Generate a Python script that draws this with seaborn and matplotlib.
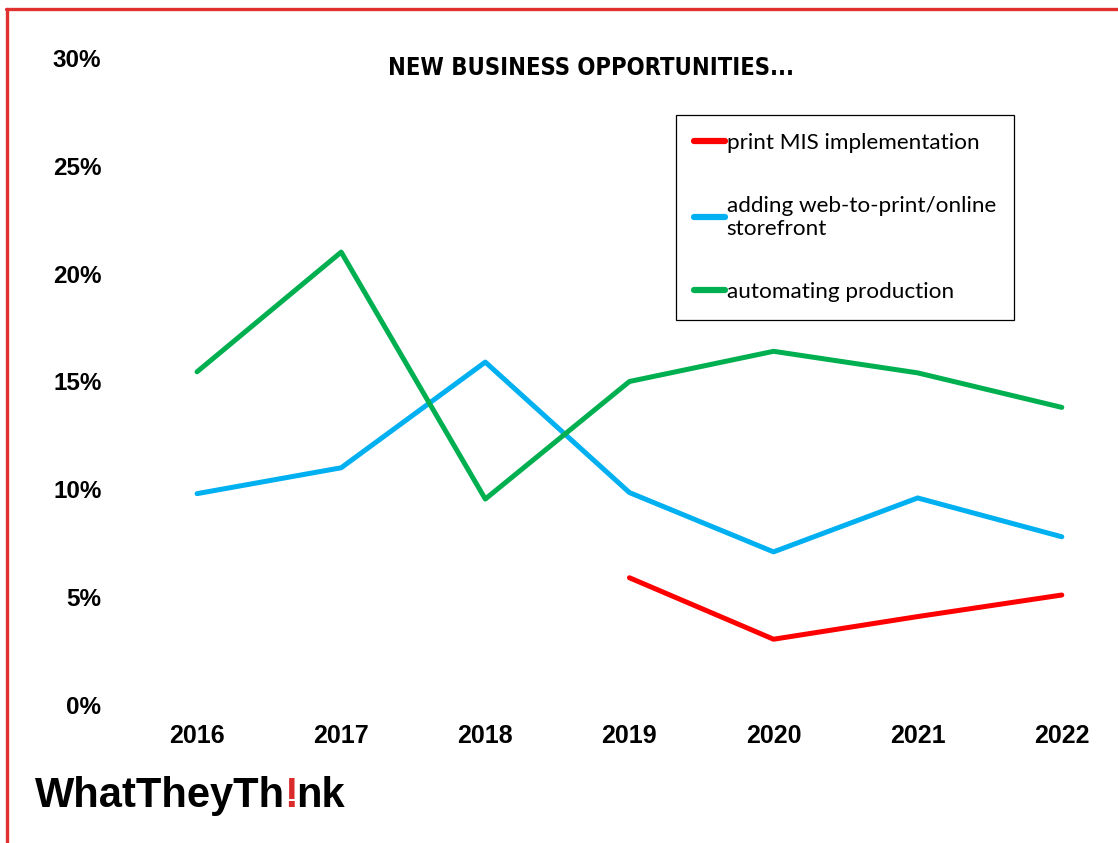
import numpy as np
import pandas as pd
import matplotlib
matplotlib.use("Agg")
import matplotlib.pyplot as plt
import seaborn as sns
from matplotlib.lines import Line2D

# Chart values
years = [2016, 2017, 2018, 2019, 2020, 2021, 2022]
mis_implementation = [np.nan, np.nan, np.nan, 5.9, 3.05, 4.1, 5.1]
web_to_print = [9.8, 11.0, 15.9, 9.85, 7.1, 9.6, 7.8]
automating_production = [15.45, 21.0, 9.55, 15.0, 16.4, 15.4, 13.8]

series_names = ["print MIS implementation",
                "adding web-to-print/online\nstorefront",
                "automating production"]
series_colors = ["#FF0000", "#00B0F0", "#00B050"]
y_ticks = [0, 5, 10, 15, 20, 25, 30]

df = pd.DataFrame({
    "year": years * 3,
    "value": mis_implementation + web_to_print + automating_production,
    "series": [series_names[0]] * 7 + [series_names[1]] * 7 + [series_names[2]] * 7,
})

sns.set_theme(style="white")
plt.rcParams["font.family"] = ["Liberation Sans", "DejaVu Sans"]
plt.rcParams["text.color"] = "black"

fig = plt.figure(figsize=(11.18, 8.43), dpi=100)
ax = fig.add_axes([0.1118, 0.1637, 0.8766, 0.7675])

sns.lineplot(data=df, x="year", y="value", hue="series", hue_order=series_names,
             palette=series_colors, linewidth=3.6, ax=ax, legend=True,
             solid_capstyle="round")

ax.set_xlim(2015.5, 2022.3)
ax.set_ylim(0, 30)
ax.set_xticks(years)
ax.set_xticklabels([str(y) for y in years], fontsize=18, fontweight="bold", color="black")
ax.set_yticks(y_ticks)
ax.set_yticklabels([f"{v}%" for v in y_ticks], fontsize=17.5, fontweight="bold", color="black")
ax.tick_params(axis="y", length=0, pad=17)
ax.tick_params(axis="x", length=0, pad=14)
ax.set_xlabel("")
ax.set_ylabel("")
for s in ax.spines.values():
    s.set_visible(False)
ax.grid(False)

handles, labels = ax.get_legend_handles_labels()
leg = ax.legend(handles, labels, loc="upper left", bbox_to_anchor=(0.5622, 0.912),
                frameon=True, fancybox=False, framealpha=1, edgecolor="black",
                prop={"family": ["Lato", "DejaVu Sans"], "size": 16.2},
                handlelength=1.4, handletextpad=0.05, labelspacing=1.9,
                borderpad=0.8, borderaxespad=0, title=None)
leg.get_frame().set_linewidth(0.9)
for line in leg.get_lines():
    line.set_linewidth(4.5)
    line.set_solid_capstyle("round")
for txt in leg.get_texts():
    txt.set_color("black")

fig.text(0.5286, 0.919, "NEW BUSINESS OPPORTUNITIES...", ha="center", va="center",
         fontsize=17, fontweight="heavy", fontstretch="condensed", color="black",
         family=["DejaVu Sans"])

# logo
renderer = fig.canvas.get_renderer()
logo_kw = dict(fontsize=30, fontweight="bold", va="baseline",
               family=["Liberation Sans", "DejaVu Sans"])
x0, ybase = 0.031, 0.043
t1 = fig.text(x0, ybase, "WhatTheyTh", color="black", **logo_kw)
w1 = t1.get_window_extent(renderer).width / fig.bbox.width
t2 = fig.text(x0 + w1 - 0.001, ybase, "!", color="#D92B2B", **logo_kw)
w2 = t2.get_window_extent(renderer).width / fig.bbox.width
fig.text(x0 + w1 + w2 - 0.002, ybase, "nk", color="black", **logo_kw)

# red border
fig.add_artist(Line2D([0.0065, 0.0065], [0.0, 0.989], color="#E03030", linewidth=2.4,
                      transform=fig.transFigure))
fig.add_artist(Line2D([0.0055, 1.0], [0.989, 0.989], color="#E03030", linewidth=2.4,
                      transform=fig.transFigure))

fig.savefig("out.png", dpi=100)
